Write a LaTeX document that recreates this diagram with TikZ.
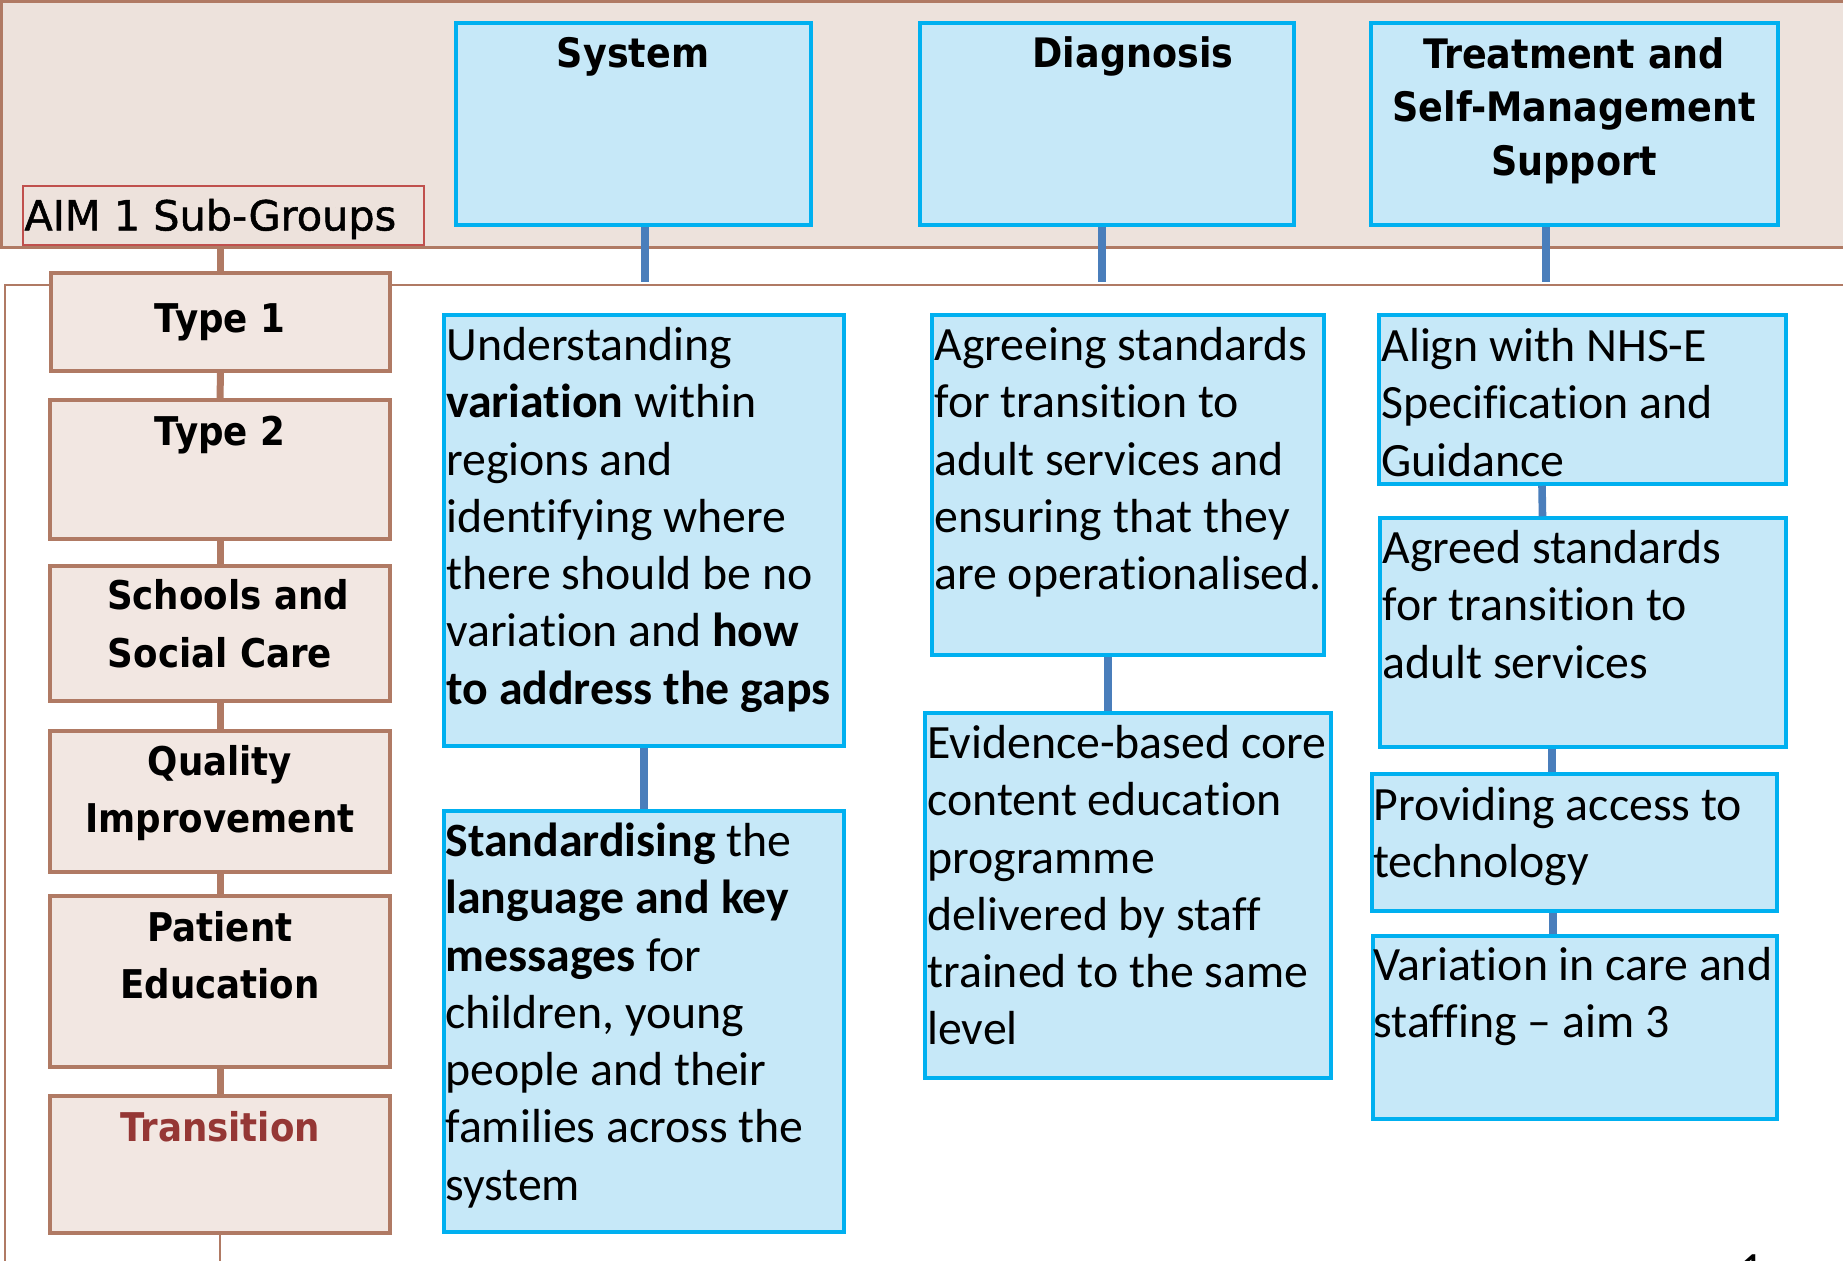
\documentclass[tikz,border=0pt]{standalone}
\usepackage{fontspec}
\setmainfont{Carlito}[Ligatures={NoCommon}]
\newfontfamily\hdrfont[FakeStretch=0.9]{DejaVu Sans}
\newfontfamily\aimfam[FakeBold=1.3]{DejaVu Sans}
\usetikzlibrary{fit}
\definecolor{bandfill}{HTML}{EDE2DC}
\definecolor{pinkfill}{HTML}{F2E7E2}
\definecolor{brownline}{HTML}{B07A64}
\definecolor{boxblue}{HTML}{00B0F0}
\definecolor{fillblue}{HTML}{C6E8F8}
\definecolor{connblue}{HTML}{4A7EBB}
\definecolor{aimred}{HTML}{C0504D}
\definecolor{trred}{HTML}{953735}
\newcommand\tstrut{\rule{0pt}{20pt}}
\newcommand\bodyfont{\fontsize{23.9pt}{28.65pt}\selectfont}
\newcommand\headfont{\hdrfont\bfseries\fontsize{20.3pt}{26.75pt}\selectfont}
\newcommand\labfont{\hdrfont\bfseries\fontsize{19.8pt}{28.75pt}\selectfont}
\newcommand\aimfont{\aimfam\fontsize{20.7pt}{24pt}\selectfont}
\begin{document}
\begin{tikzpicture}[x=0.5pt,y=-0.5pt,
  bluebox/.style={draw=boxblue, fill=fillblue, line width=1.75pt, inner sep=0pt},
  brownbox/.style={draw=brownline, fill=pinkfill, line width=2pt, inner sep=0pt},
  aimbox/.style={draw=aimred, line width=1pt, inner sep=0pt},
  bconn/.style={draw=connblue, line width=3.8pt},
  brconn/.style={draw=brownline, line width=3.5pt},
  body/.style={inner sep=0pt, anchor=north west, align=left, font=\bodyfont},
  head/.style={inner sep=0pt, anchor=north, align=center, font=\headfont},
  lab/.style={inner sep=0pt, anchor=north, align=center, font=\labfont},
]
\useasboundingbox (0,0) rectangle (1843,1260);
% top band and frame
\fill[bandfill] (0,0) rectangle (1850,247);
\draw[brownline, line width=1.5pt] (1850,1) -- (1,1) -- (1,247) -- (1850,247);
\draw[brownline, line width=1.1pt] (1850,285) -- (5,285) -- (5,1270);

% AIM label box
\node[aimbox, fit={(23,186) (424,245)}] (aim) {};
\node[inner sep=0pt, anchor=north west, font=\aimfont] (aimtxt) at (24,190) {\tstrut AIM 1 Sub-Groups};

% header boxes
\node[bluebox, fit={(456,23) (811,225)}] (sys) {};
\node[bluebox, fit={(920,23) (1294,225)}] (diag) {};
\node[bluebox, fit={(1371,23) (1778,225)}] (treat) {};
\node[head] (systxt) at (633,27) {\tstrut System};
\node[head] (diagtxt) at (1133,27) {\tstrut Diagnosis};
\node[head] (treattxt) at (1574,28) {\tstrut Treatment and\\Self-Management\\Support};

% left column
\node[brownbox, fit={(51,273) (390,371)}] (t1) {};
\node[brownbox, fit={(50,400) (390,539)}] (t2) {};
\node[brownbox, fit={(50,566) (390,701)}] (sc) {};
\node[brownbox, fit={(50,731) (390,872)}] (qi) {};
\node[brownbox, fit={(50,896) (390,1067)}] (pe) {};
\node[brownbox, fit={(50,1096) (390,1233)}] (tr) {};
\node[lab] (t1txt) at (220,292) {\tstrut Type 1};
\node[lab] (t2txt) at (220,405) {\tstrut Type 2};
\node[lab] (sctxt) at (220,569.5) {\tstrut\hspace*{8pt}Schools and\\Social Care};
\node[lab] (qitxt) at (220,735) {\tstrut Quality\\Improvement};
\node[lab] (petxt) at (220,901) {\tstrut Patient\\Education};
\node[lab, text=trred] (trtxt) at (220,1101) {\tstrut Transition};

% content boxes
\node[bluebox, fit={(444,315) (844,746)}] (und) {};
\node[bluebox, fit={(444,811) (844,1232)}] (std) {};
\node[bluebox, fit={(932,315) (1324,655)}] (agr) {};
\node[bluebox, fit={(925,713) (1331,1078)}] (evi) {};
\node[bluebox, fit={(1379,315) (1786,484)}] (ali) {};
\node[bluebox, fit={(1380,518) (1786,747)}] (ags) {};
\node[bluebox, fit={(1372,774) (1777,911)}] (pro) {};
\node[bluebox, fit={(1373,936) (1777,1119)}] (var) {};

\node[body] (undtxt) at (446,320) {\tstrut Understanding\\\textbf{variation} within\\regions and\\identifying where\\there should be no\\variation and \textbf{how}\\\textbf{to address the gaps}};
\node[body] (stdtxt) at (445,816) {\tstrut\textbf{Standardising} the\\\textbf{language and key}\\\textbf{messages} for\\children, young\\people and their\\families across the\\system};
\node[body] (agrtxt) at (934,320) {\tstrut Agreeing standards\\for transition to\\adult services and\\ensuring that they\\are operationalised.};
\node[body] (evitxt) at (927,718) {\tstrut Evidence-based core\\content education\\programme\\delivered by staff\\trained to the same\\level};
\node[body] (alitxt) at (1381,321) {\tstrut Align with NHS-E\\Specification and\\Guidance};
\node[body] (agstxt) at (1382,523) {\tstrut Agreed standards\\for transition to\\adult services};
\node[body] (protxt) at (1373,780) {\tstrut Providing access to\\technology};
\node[body] (vartxt) at (1373,940) {\tstrut Variation in care and\\staffing -- aim 3};

% connectors
\coordinate (c1) at (645,282);
\coordinate (c2) at (1102,282);
\coordinate (c3) at (1546,282);
\draw[bconn] (sys.south -| c1) -- (c1);
\draw[bconn] (diag.south -| c2) -- (c2);
\draw[bconn] (treat.south -| c3) -- (c3);
\draw[bconn] (und.south) -- (std.north);
\draw[bconn] ([xshift=-10pt]agr.south) -- ([xshift=-10pt]evi.north);
\draw[bconn] ([xshift=-20.25pt]ali.south) -- ([xshift=-20.25pt]ags.north);
\draw[bconn] ([xshift=-15.5pt]ags.south) -- ([xshift=-11.25pt]pro.north);
\draw[bconn] ([xshift=-10.75pt]pro.south) -- ([xshift=-11pt]var.north);

\draw[brconn] (aim.south -| t1.north) -- (t1.north);
\draw[brconn] (t1.south) -- (t2.north);
\draw[brconn] (t2.south) -- (sc.north);
\draw[brconn] (sc.south) -- (qi.north);
\draw[brconn] (qi.south) -- (pe.north);
\draw[brconn] (pe.south) -- (tr.north);
\coordinate (bend) at (220,1265);
\draw[brownline, line width=1pt] (tr.south) -- (tr.south |- bend);

\node[font=\bodyfont, anchor=base, inner sep=0pt] (pgnum) at (1752,1285) {1};
\end{tikzpicture}
\end{document}
